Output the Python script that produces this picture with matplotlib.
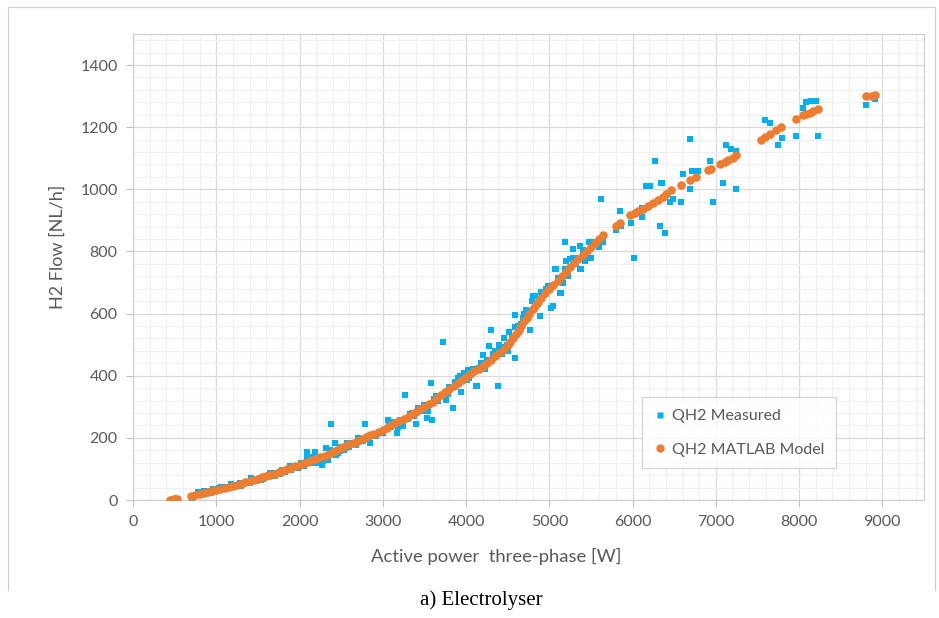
import matplotlib
matplotlib.use("Agg")
import matplotlib.pyplot as plt
from matplotlib.lines import Line2D
from matplotlib.ticker import MultipleLocator

# measured H2 flow vs three-phase active power
meas_p = [480, 520, 540, 705, 720, 760, 800, 850, 880, 920, 960, 1000, 1030, 1080, 1120, 1150,
          1200, 1240, 1285, 1320, 1360, 1400, 1440, 1480, 1520, 1560, 1600, 1645, 1680, 1720,
          1760, 1785, 1820, 1860, 1900, 1940, 1980, 2020,
          2085, 2085, 2120, 2150, 2185, 2200, 2240, 2265, 2300, 2317, 2340, 2373, 2390, 2421,
          2440, 2485, 2500, 2530, 2565, 2600, 2640, 2680, 2720, 2760, 2785, 2800, 2845, 2880,
          2920, 2960, 3000,
          3040, 3065, 3100, 3140, 3165, 3205, 3245, 3265, 3290, 3325, 3345, 3370, 3397, 3425,
          3460, 3500, 3525, 3545, 3585, 3590, 3620, 3660, 3685, 3725, 3745, 3765, 3800, 3845,
          3865, 3885, 3925, 3945, 3970, 4014, 4025,
          4060, 4085, 4118, 4126, 4160, 4198, 4206, 4226, 4250, 4278, 4294, 4320, 4350, 4382,
          4400, 4430, 4460, 4490, 4520, 4550, 4582, 4586, 4586, 4620, 4662, 4686, 4700, 4746,
          4766, 4790, 4806, 4826, 4846, 4886, 4900, 4940, 4990,
          5026, 5046, 5066, 5086, 5102, 5126, 5138, 5160, 5186, 5186, 5226, 5246, 5286, 5286,
          5320, 5366, 5366, 5386, 5406, 5426, 5450, 5506, 5540, 5580, 5626, 5646, 5806, 5846,
          5866, 5978, 6018,
          6118, 6118, 6167, 6167, 6207, 6267, 6326, 6347, 6358, 6386, 6447, 6487, 6587, 6607,
          6687, 6695, 6719, 6787, 6927, 6967, 7087, 7127, 7187, 7239, 7247, 7587, 7647, 7747,
          7799, 7967, 8047, 8087, 8147, 8207, 8227, 8807, 8916,
          # extra readings hugging the model curve
          780, 940, 1060, 1180, 1300, 1420, 1540, 1700, 1880, 2050, 2160, 2280, 2360, 2460,
          2560, 2700, 2820, 2900, 3080, 3180, 3300, 3420, 3480, 3640, 3780, 3900, 4040, 4180,
          4300, 4420, 4500, 4640, 4720, 4860, 4960, 5200, 5340, 5480, 5600]
meas_q = [0, 2, 0, 0, 12, 17, 22, 28, 24, 30, 34, 30, 38, 36, 42, 40,
          48, 44, 56, 50, 58, 56, 64, 62, 72, 68, 78, 86, 76, 88,
          84, 97, 90, 100, 96, 108, 104, 118,
          138, 156, 120, 128, 156, 120, 140, 113, 138, 167, 130, 245, 150, 185,
          146, 159, 172, 160, 185, 170, 185, 178, 196, 190, 245, 200, 183, 210,
          205, 220, 215,
          230, 256, 235, 250, 215, 258, 237, 339, 262, 277, 280, 270, 245, 296,
          290, 305, 263, 285, 378, 256, 325, 320, 335, 507, 345, 323, 365, 295,
          380, 376, 398, 349, 410, 387, 419,
          410, 422, 368, 368, 425, 468, 467, 422, 450, 497, 546, 470, 480, 368,
          500, 470, 520, 500, 540, 520, 557, 457, 597, 560, 568, 586, 600, 607,
          548, 640, 656, 656, 630, 591, 670, 660, 688,
          618, 624, 742, 742, 715, 667, 667, 700, 742, 830, 720, 776, 780, 809,
          760, 742, 819, 742, 806, 769, 790, 780, 830, 820, 970, 830, 869, 930,
          882, 893, 780,
          912, 941, 941, 1011, 1011, 1091, 882, 1019, 1019, 860, 959, 970, 959, 1048,
          1161, 1000, 1059, 1059, 1091, 959, 1019, 1142, 1131, 1124, 1000, 1223, 1212, 1143,
          1164, 1172, 1263, 1280, 1285, 1283, 1172, 1272, 1290,
          26, 22, 42, 50, 46, 70, 64, 78, 108, 110, 138, 126, 160, 150,
          168, 198, 196, 205, 244, 236, 262, 296, 286, 336, 340, 394, 394, 440,
          448, 492, 480, 540, 610, 630, 680, 770, 780, 830, 815]

# MATLAB model output
model_p = [450, 470, 490, 510, 530,
           700, 750, 800, 850, 900, 950, 1000, 1050, 1100, 1150, 1200, 1250, 1300, 1350,
           1400, 1450, 1500, 1550, 1600, 1650, 1700, 1750, 1800, 1850, 1900, 1950, 2000,
           2050, 2100, 2150, 2200, 2250, 2300, 2350, 2400, 2450, 2500, 2550, 2600, 2650,
           2700, 2750, 2800, 2850, 2900, 2950, 3000, 3050, 3100, 3150, 3200, 3250, 3300,
           3350, 3400, 3450, 3500, 3550, 3600, 3650, 3700, 3750, 3800, 3850, 3900, 3950,
           4000, 4050, 4100, 4150, 4200, 4250, 4300, 4350, 4400, 4450, 4500, 4530, 4560,
           4600, 4630, 4660, 4700, 4730, 4760, 4800, 4830, 4860, 4900, 4950, 5000, 5050,
           5100, 5150, 5200, 5250, 5300, 5350, 5400, 5450, 5500, 5550, 5600, 5650,
           5806, 5846, 5966, 6026, 6066, 6126, 6186, 6246, 6306, 6366, 6406, 6466, 6586,
           6687, 6767, 6907, 6947, 7047, 7107, 7147, 7207, 7247, 7547, 7587, 7647, 7727,
           7787, 7967, 8047, 8087, 8127, 8167, 8227, 8800, 8880, 8916]
model_q = [0, 1, 2, 3, 4,
           14, 17, 20, 23, 26, 29, 32, 35, 38, 41, 45, 49, 53, 57,
           61, 65, 69, 73, 77, 81, 85, 90, 94, 99, 103, 108, 113,
           118, 123, 128, 133, 138, 143, 149, 155, 161, 167, 174, 180, 185,
           191, 197, 203, 208, 214, 220, 226, 233, 240, 247, 254, 261, 268,
           276, 284, 292, 300, 308, 317, 327, 337, 347, 357, 367, 377, 387,
           397, 405, 414, 423, 432, 442, 452, 462, 472, 485, 498, 509, 520,
           535, 547, 559, 575, 587, 599, 615, 626, 637, 650, 665, 678, 692,
           705, 720, 735, 749, 763, 777, 790, 802, 815, 828, 840, 853,
           882, 893, 916, 925, 930, 938, 946, 955, 966, 976, 984, 998, 1013,
           1029, 1040, 1061, 1067, 1081, 1088, 1095, 1102, 1110, 1159, 1167, 1177, 1191,
           1201, 1228, 1239, 1243, 1247, 1252, 1258, 1299, 1302, 1304]

BLUE = "#00B0F0"
ORANGE = "#ED7D31"
TXT = "#595959"
FONT = ["Lato", "DejaVu Sans"]

plt.rcParams["font.family"] = FONT

fig = plt.figure(figsize=(9.39, 6.18), dpi=100)
ax = fig.add_axes([133 / 939, 1 - 500 / 618, 791 / 939, 466 / 618])

ax.scatter(meas_p, meas_q, s=22, marker="s", color=BLUE, linewidths=0, zorder=3)
ax.scatter(model_p, model_q, s=38, marker="o", color=ORANGE, linewidths=0, zorder=4)

ax.set_xlim(0, 9500)
ax.set_ylim(0, 1500)
ax.xaxis.set_major_locator(MultipleLocator(1000))
ax.xaxis.set_minor_locator(MultipleLocator(200))
ax.yaxis.set_major_locator(MultipleLocator(200))
ax.yaxis.set_minor_locator(MultipleLocator(40))
ax.set_xticks(range(0, 9001, 1000))
ax.set_yticks(range(0, 1401, 200))
ax.grid(which="major", color="#D9D9D9", lw=0.9, zorder=0)
ax.grid(which="minor", color="#F0F0F0", lw=0.9, zorder=0)
ax.set_axisbelow(True)
ax.tick_params(which="major", length=5, width=0.8, color="#BFBFBF",
               labelsize=11.5, labelcolor=TXT, pad=6)
ax.tick_params(which="minor", length=0)
for sp in ax.spines.values():
    sp.set_color("#D0D0D0")
    sp.set_linewidth(0.9)

ax.set_xlabel("Active power  three-phase [W]", fontsize=13.3, color=TXT)
ax.xaxis.set_label_coords((496 - 133) / 791, (500 - 548) / 466)
ax.set_ylabel("H2 Flow [NL/h]", fontsize=13, color=TXT)
ax.yaxis.set_label_coords((66 - 133) / 791, (500 - 247) / 466)

handles = [
    Line2D([], [], ls="none", marker="s", ms=5, color=BLUE, mec="none"),
    Line2D([], [], ls="none", marker="o", ms=6, color=ORANGE, mec="none"),
]
leg = fig.legend(handles, ["QH2 Measured", "QH2 MATLAB Model"],
                 loc="upper left", bbox_to_anchor=(642 / 939, 1 - 397 / 618),
                 fontsize=11.5, frameon=True, fancybox=False, labelspacing=1.2,
                 handlelength=0.8, handletextpad=0.3, borderpad=0.75, borderaxespad=0)
leg.get_frame().set_edgecolor("#C8C8C8")
leg.get_frame().set_linewidth(0.9)
for t in leg.get_texts():
    t.set_color(TXT)

# outer chart border
border = dict(color="#D0D0D0", lw=0.9, transform=fig.transFigure)
fig.add_artist(Line2D([8 / 939, 935 / 939], [1 - 7 / 618, 1 - 7 / 618], **border))
fig.add_artist(Line2D([8 / 939, 8 / 939], [1 - 7 / 618, 1 - 590 / 618], **border))
fig.add_artist(Line2D([935 / 939, 935 / 939], [1 - 7 / 618, 1 - 590 / 618], **border))

fig.text(481 / 939, 1 - 600 / 618, "a) Electrolyser", family=["Liberation Serif"],
         fontsize=15, color="black", ha="center", va="center")

fig.savefig("out.png", dpi=100)
